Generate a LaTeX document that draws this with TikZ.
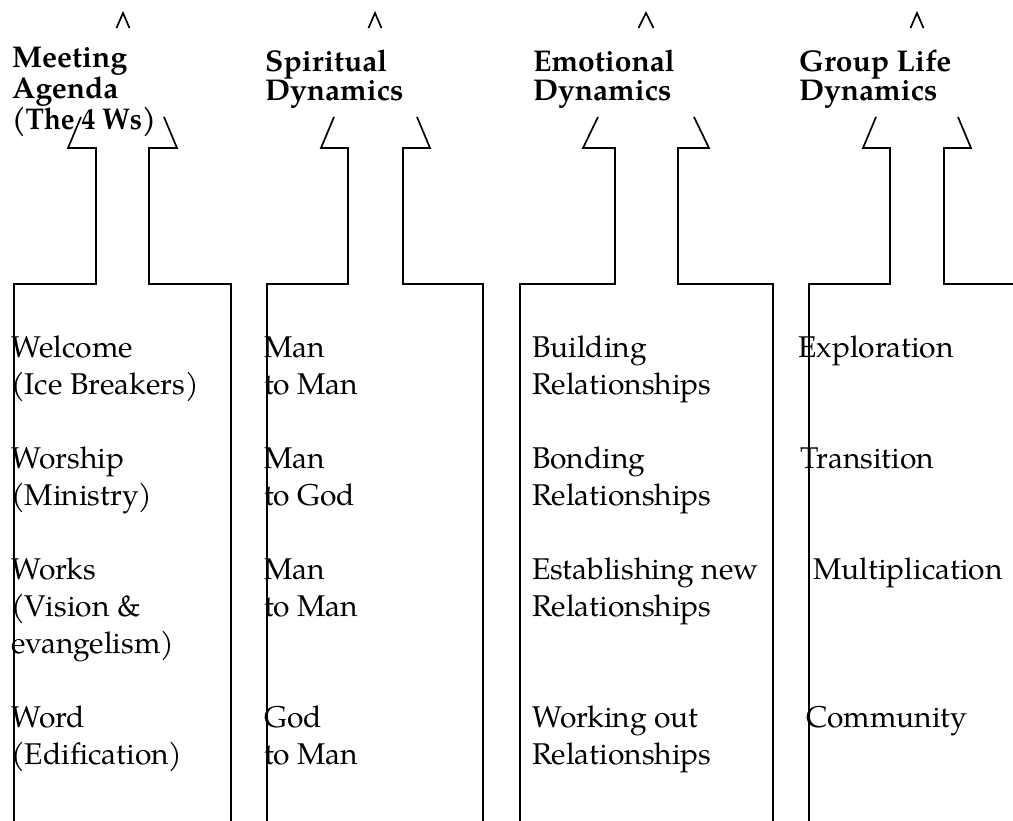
\documentclass[tikz,border=0pt]{standalone}
\usepackage{fontspec}
\usepackage{graphicx}
\setmainfont{texgyrepagella}[Extension=.otf, UprightFont=*-regular, BoldFont=*-bold]
\begin{document}
\begin{tikzpicture}[x=1pt,y=-1pt,
  outline/.style={draw=black, line width=1.7pt, line join=miter},
  headtxt/.style={anchor=base west, inner sep=0pt, align=left,
    font=\fontsize{30}{28.7}\selectfont\bfseries},
  bodytxt/.style={anchor=base west, inner sep=0pt, align=left,
    font=\fontsize{30}{37}\selectfont}]
\useasboundingbox (0,0) rectangle (1013,821);
\clip (0,0) rectangle (1013,821);

% ---------- column outlines (open block arrows) ----------
% column 1
\draw[outline] (14,830) -- (14,284) -- (96,284) -- (96,148) -- (68,148) -- (81,117);
\draw[outline] (231,830) -- (231,284) -- (149,284) -- (149,148) -- (177,148) -- (164,117);
\draw[outline] (116.5,28) -- (123,13) -- (129.5,28);
% column 2
\draw[outline] (267,830) -- (267,284) -- (348,284) -- (348,148) -- (321,148) -- (334,117);
\draw[outline] (483,830) -- (483,284) -- (403,284) -- (403,148) -- (430,148) -- (417,117);
\draw[outline] (368.5,28) -- (375,13) -- (381.5,28);
% column 3
\draw[outline] (520,830) -- (520,284) -- (615,284) -- (615,148) -- (583,148) -- (598,117);
\draw[outline] (773,830) -- (773,284) -- (678,284) -- (678,148) -- (709,148) -- (694,117);
\draw[outline] (638.5,28) -- (646,13) -- (653.5,28);
% column 4
\draw[outline] (809,830) -- (809,284) -- (890,284) -- (890,148) -- (863,148) -- (876,117);
\draw[outline] (1040,284) -- (944,284) -- (944,148) -- (971,148) -- (958,117);
\draw[outline] (910.5,28) -- (917,13) -- (923.5,28);

% ---------- headings (anchor = baseline of last line) ----------
\node[headtxt] (h1) at (12,129.4) {Meeting\\Agenda\\\scalebox{0.92}[1]{(The 4 Ws)}};
\node[headtxt] (h2) at (265,100.7) {Spiritual\\Dynamics};
\node[headtxt] (h3) at (533,100.7) {Emotional\\Dynamics};
\node[headtxt] (h4) at (799,100.7) {Group Life\\Dynamics};

% ---------- column 1 ----------
\node[bodytxt] (a1) at (11,394) {Welcome\\(Ice Breakers)};
\node[bodytxt] (a2) at (11,505) {Worship\\(Ministry)};
\node[bodytxt] (a3) at (11,653) {Works\\(Vision \&\\evangelism)};
\node[bodytxt] (a4) at (11,764) {Word\\(Edification)};
% ---------- column 2 ----------
\node[bodytxt] (b1) at (264,394) {Man\\to Man};
\node[bodytxt] (b2) at (264,505) {Man\\to God};
\node[bodytxt] (b3) at (264,616) {Man\\to Man};
\node[bodytxt] (b4) at (264,764) {God\\to Man};
% ---------- column 3 ----------
\node[bodytxt] (c1) at (532,394) {Building\\Relationships};
\node[bodytxt] (c2) at (532,505) {Bonding\\Relationships};
\node[bodytxt] (c3) at (532,616) {Establishing new\\Relationships};
\node[bodytxt] (c4) at (532,764) {Working out\\Relationships};
% ---------- column 4 ----------
\node[bodytxt] (d1) at (798,357) {Exploration};
\node[bodytxt] (d2) at (800,468) {Transition};
\node[bodytxt] (d3) at (813,579) {Multiplication};
\node[bodytxt] (d4) at (806,727) {Community};
\end{tikzpicture}
\end{document}
